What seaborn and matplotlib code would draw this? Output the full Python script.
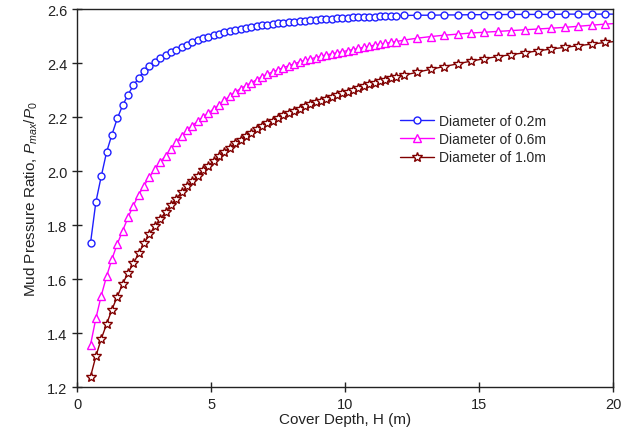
import matplotlib
matplotlib.use('Agg')

import matplotlib.pyplot as plt
import seaborn as sns
import pandas as pd

# cover depth (m): dense part, then coarse part
depth_fine = [0.5, 0.7, 0.9, 1.1, 1.3, 1.5, 1.7, 1.9, 2.1, 2.3,
              2.5, 2.7, 2.9, 3.1, 3.3, 3.5, 3.7, 3.9, 4.1, 4.3,
              4.5, 4.7, 4.9, 5.1, 5.3, 5.5, 5.7, 5.9, 6.1, 6.3,
              6.5, 6.7, 6.9, 7.1, 7.3, 7.5, 7.7, 7.9, 8.1, 8.3,
              8.5, 8.7, 8.9, 9.1, 9.3, 9.5, 9.7, 9.9, 10.1, 10.3,
              10.5, 10.7, 10.9, 11.1, 11.3, 11.5, 11.7, 11.9]
depth_coarse = [12.2, 12.7, 13.2, 13.7, 14.2, 14.7, 15.2, 15.7, 16.2,
                16.7, 17.2, 17.7, 18.2, 18.7, 19.2, 19.7, 20.2]
depth = depth_fine + depth_coarse

ratio_02 = [1.733, 1.885, 1.98, 2.07, 2.135, 2.195, 2.243, 2.283, 2.317, 2.345,
            2.37, 2.39, 2.405, 2.417, 2.429, 2.44, 2.45, 2.459, 2.468, 2.476,
            2.484, 2.491, 2.497, 2.503, 2.508, 2.513, 2.517, 2.522, 2.526, 2.53,
            2.533, 2.536, 2.539, 2.542, 2.545, 2.547, 2.549, 2.551, 2.553, 2.555,
            2.557, 2.559, 2.56, 2.562, 2.563, 2.564, 2.566, 2.567, 2.568, 2.569,
            2.57, 2.571, 2.571, 2.572, 2.573, 2.573, 2.574, 2.575,
            2.576, 2.577, 2.577, 2.578, 2.578, 2.579, 2.579, 2.579, 2.58,
            2.58, 2.58, 2.58, 2.581, 2.581, 2.581, 2.581, 2.581]

ratio_06 = [1.356, 1.454, 1.538, 1.61, 1.674, 1.73, 1.779, 1.828, 1.872, 1.912,
            1.946, 1.978, 2.006, 2.032, 2.057, 2.081, 2.106, 2.13, 2.152, 2.168,
            2.185, 2.2, 2.215, 2.23, 2.245, 2.262, 2.278, 2.293, 2.305, 2.316,
            2.327, 2.338, 2.349, 2.359, 2.367, 2.375, 2.383, 2.39, 2.397, 2.404,
            2.41, 2.415, 2.42, 2.425, 2.43, 2.434, 2.438, 2.442, 2.446, 2.45,
            2.454, 2.458, 2.462, 2.466, 2.47, 2.473, 2.476, 2.479,
            2.485, 2.492, 2.498, 2.503, 2.507, 2.511, 2.514, 2.517, 2.52,
            2.523, 2.526, 2.529, 2.532, 2.536, 2.54, 2.544, 2.547]

ratio_10 = [1.238, 1.314, 1.378, 1.433, 1.487, 1.535, 1.582, 1.623, 1.658, 1.695,
            1.733, 1.766, 1.795, 1.822, 1.848, 1.874, 1.898, 1.921, 1.943, 1.963,
            1.983, 2.002, 2.02, 2.038, 2.055, 2.072, 2.087, 2.102, 2.116, 2.129,
            2.142, 2.154, 2.166, 2.177, 2.187, 2.197, 2.206, 2.215, 2.223, 2.231,
            2.239, 2.247, 2.254, 2.261, 2.268, 2.275, 2.282, 2.288, 2.294, 2.3,
            2.308, 2.315, 2.321, 2.327, 2.332, 2.338, 2.343, 2.348,
            2.355, 2.366, 2.377, 2.387, 2.397, 2.407, 2.416, 2.424, 2.431,
            2.438, 2.445, 2.452, 2.458, 2.464, 2.47, 2.476, 2.481]

labels = ['Diameter of 0.2m', 'Diameter of 0.6m', 'Diameter of 1.0m']
x_ticks = [0, 5, 10, 15, 20]
y_ticks = [1.2, 1.4, 1.6, 1.8, 2.0, 2.2, 2.4, 2.6]

sns.set_style('ticks')
plt.rcParams['font.family'] = ['Liberation Sans', 'DejaVu Sans']
plt.rcParams['mathtext.fontset'] = 'custom'
plt.rcParams['mathtext.rm'] = 'Liberation Sans'
plt.rcParams['mathtext.it'] = 'Liberation Sans:italic'

fig = plt.figure(figsize=(6.32, 4.35), dpi=100)
ax = fig.add_axes([0.122, 0.108, 0.848, 0.869])

styles = [('#1f1fff', 'o', 5.0), ('#ff00ff', '^', 6.0), ('#800000', '*', 7.0)]
for values, label, (color, marker, size) in zip([ratio_02, ratio_06, ratio_10], labels, styles):
    df = pd.DataFrame({'H': depth, 'ratio': values})
    sns.lineplot(data=df, x='H', y='ratio', ax=ax, color=color, marker=marker,
                 markersize=size, markerfacecolor='white', markeredgecolor=color,
                 markeredgewidth=1.0, linewidth=1.0, label=label)

ax.set_xlim(0, 20)
ax.set_ylim(1.2, 2.6)
ax.set_xticks(x_ticks)
ax.set_yticks(y_ticks)
ax.set_yticklabels(['%.1f' % v for v in y_ticks])
ax.tick_params(direction='inout', length=7, width=1, labelsize=10.5, colors='#222222')
for s in ax.spines.values():
    s.set_linewidth(1.0)
    s.set_color('#222222')

ax.set_xlabel('Cover Depth, H (m)', fontsize=11, labelpad=1, color='#222222')
ax.set_ylabel('Mud Pressure Ratio, $P_{max}/P_0$', fontsize=11, labelpad=5, color='#222222')

ax.legend(loc='upper left', bbox_to_anchor=(0.58, 0.755), frameon=False,
          fontsize=10, handlelength=2.4, labelspacing=0.3, handletextpad=0.4)

fig.savefig('out.png', dpi=100)
